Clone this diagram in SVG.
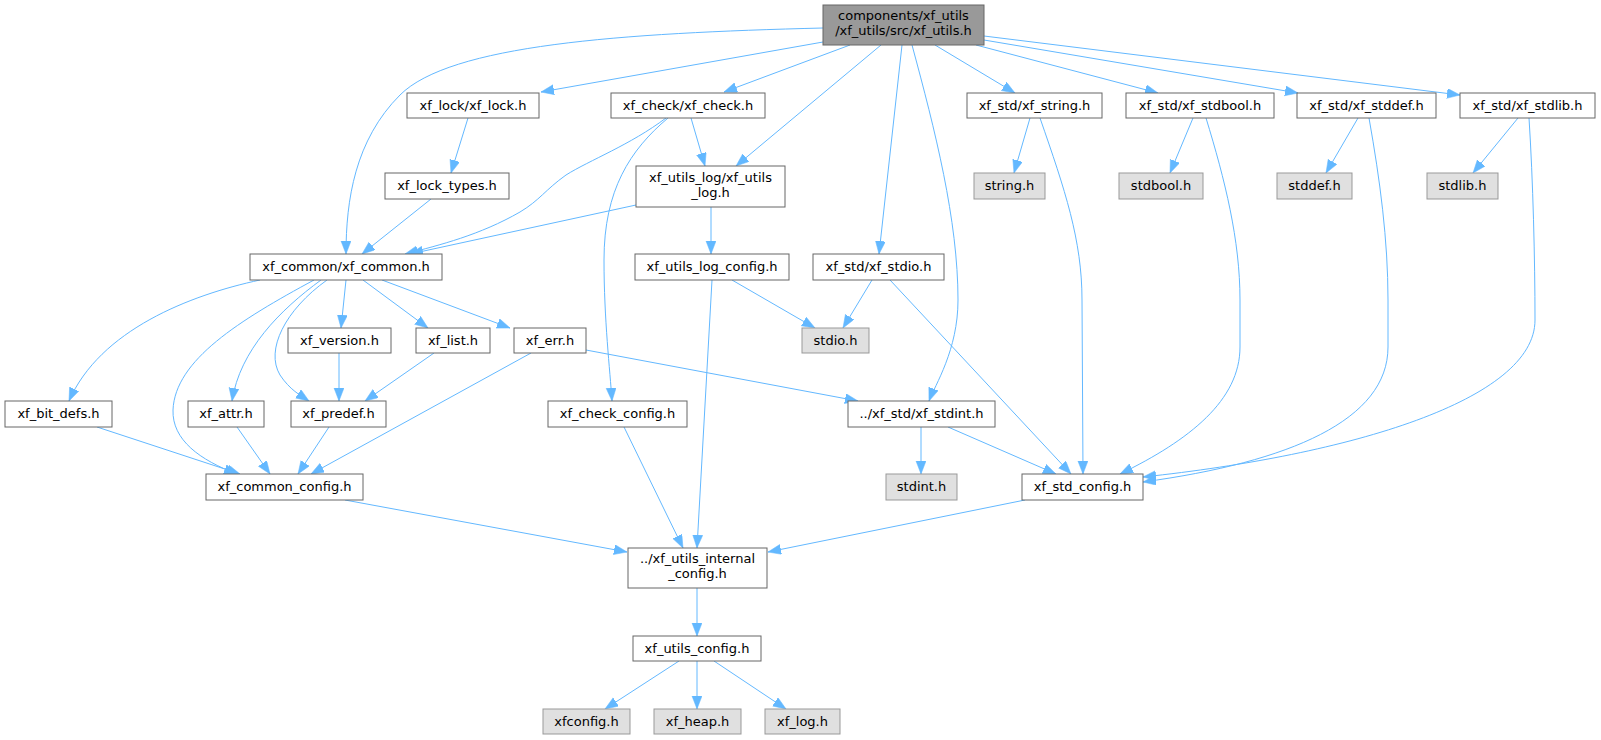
<svg xmlns="http://www.w3.org/2000/svg" width="1601" height="740" viewBox="0 0 1601 740">
<defs>
<style>
.n rect{fill:#ffffff;stroke:#666666;stroke-width:1}
.s rect{fill:#e0e0e0;stroke:#999999;stroke-width:1}
.m rect{fill:#999999;stroke:#666666;stroke-width:1}
text{font-family:"DejaVu Sans","Liberation Sans",sans-serif;font-size:13px;fill:#000000;text-anchor:middle}
#edges path{fill:none;stroke:#63b8ff;stroke-width:1;marker-end:url(#arr)}
</style>
<marker id="arr" markerUnits="userSpaceOnUse" markerWidth="14" markerHeight="12" refX="13" refY="5" orient="auto">
<path d="M0,0 L13,5 L0,10 z" fill="#63b8ff" stroke="#63b8ff" stroke-width="0.5"/>
</marker>
</defs>
<rect x="0" y="0" width="1601" height="740" fill="#ffffff"/>
<g id="edges">
<path d="M823,28 C620,33 450,45 400,95 C355,140 346,200 346,254"/>
<path d="M823,42 L541,92"/>
<path d="M850,45 L724,92"/>
<path d="M881,45 L736,166"/>
<path d="M902,45 L879,254"/>
<path d="M912,45 C935,130 958,220 958,300 C958,350 935,385 929,401"/>
<path d="M935,45 L1015,93"/>
<path d="M976,45 L1158,93"/>
<path d="M984,40 L1298,93"/>
<path d="M984,36 L1460,95"/>
<path d="M468,118 L451,173"/>
<path d="M431,199 L362,254"/>
<path d="M666,118 C630,145 590,160 566,175 C545,190 540,200 520,212 C480,235 440,245 405,254"/>
<path d="M691,118 L705,166"/>
<path d="M668,118 C630,150 604,190 604,260 C604,320 610,370 612,401"/>
<path d="M636,205 L410,254"/>
<path d="M711,207 L711,254"/>
<path d="M732,280 L815,328"/>
<path d="M712,280 L697,548"/>
<path d="M872,280 L843,328"/>
<path d="M890,280 L1071,474"/>
<path d="M260,280 C190,295 100,330 69,401"/>
<path d="M314,280 C240,320 175,360 173,410 C172,440 200,460 237,474"/>
<path d="M321,280 C280,310 240,350 232,401"/>
<path d="M327,280 C285,310 265,350 280,375 C290,390 300,395 309,401"/>
<path d="M346,280 L341,328"/>
<path d="M363,280 L428,328"/>
<path d="M382,280 L510,328"/>
<path d="M339,353 L339,401"/>
<path d="M434,353 L365,401"/>
<path d="M531,353 L311,474"/>
<path d="M586,350 L858,401"/>
<path d="M97,427 L240,474"/>
<path d="M237,427 L270,474"/>
<path d="M329,427 L298,474"/>
<path d="M345,500 L627,552"/>
<path d="M624,427 L683,548"/>
<path d="M921,427 L921,474"/>
<path d="M948,427 L1056,474"/>
<path d="M1040,118 C1065,190 1082,240 1082,300 L1083,474"/>
<path d="M1030,118 L1014,173"/>
<path d="M1193,118 L1170,173"/>
<path d="M1206,118 C1225,180 1240,240 1240,300 L1240,347 C1240,400 1190,440 1120,474"/>
<path d="M1358,118 L1326,173"/>
<path d="M1369,118 C1380,180 1388,240 1388,300 L1388,347 C1388,420 1290,462 1143,482"/>
<path d="M1518,118 L1473,173"/>
<path d="M1529,118 C1533,180 1535,260 1535,320 C1535,400 1350,455 1143,477"/>
<path d="M1025,500 L768,552"/>
<path d="M697,588 L697,636"/>
<path d="M679,661 L605,709"/>
<path d="M697,661 L697,709"/>
<path d="M714,661 L786,709"/>
</g>
<g id="node_main" class="m"><rect x="823" y="5" width="161" height="40"/><text x="903.5" y="20">components/xf_utils</text><text x="903.5" y="35">/xf_utils/src/xf_utils.h</text></g>
<g id="node_lock" class="n"><rect x="407" y="93" width="132" height="25"/><text x="473" y="110">xf_lock/xf_lock.h</text></g>
<g id="node_check" class="n"><rect x="611" y="93" width="154" height="25"/><text x="688" y="110">xf_check/xf_check.h</text></g>
<g id="node_string" class="n"><rect x="967" y="93" width="135" height="25"/><text x="1034.5" y="110">xf_std/xf_string.h</text></g>
<g id="node_stdbool" class="n"><rect x="1126" y="93" width="148" height="25"/><text x="1200" y="110">xf_std/xf_stdbool.h</text></g>
<g id="node_stddef" class="n"><rect x="1297" y="93" width="139" height="25"/><text x="1366.5" y="110">xf_std/xf_stddef.h</text></g>
<g id="node_stdlib" class="n"><rect x="1460" y="93" width="135" height="25"/><text x="1527.5" y="110">xf_std/xf_stdlib.h</text></g>
<g id="node_lock_types" class="n"><rect x="385" y="173" width="124" height="26"/><text x="447" y="190">xf_lock_types.h</text></g>
<g id="node_utils_log" class="n"><rect x="636" y="166" width="149" height="41"/><text x="710.5" y="182">xf_utils_log/xf_utils</text><text x="710.5" y="197">_log.h</text></g>
<g id="node_string_h" class="s"><rect x="974" y="173" width="71" height="26"/><text x="1009.5" y="190">string.h</text></g>
<g id="node_stdbool_h" class="s"><rect x="1119" y="173" width="84" height="26"/><text x="1161" y="190">stdbool.h</text></g>
<g id="node_stddef_h" class="s"><rect x="1277" y="173" width="75" height="26"/><text x="1314.5" y="190">stddef.h</text></g>
<g id="node_stdlib_h" class="s"><rect x="1427" y="173" width="71" height="26"/><text x="1462.5" y="190">stdlib.h</text></g>
<g id="node_common" class="n"><rect x="250" y="254" width="192" height="26"/><text x="346" y="271">xf_common/xf_common.h</text></g>
<g id="node_log_config" class="n"><rect x="635" y="254" width="154" height="26"/><text x="712" y="271">xf_utils_log_config.h</text></g>
<g id="node_stdio" class="n"><rect x="813" y="254" width="131" height="26"/><text x="878.5" y="271">xf_std/xf_stdio.h</text></g>
<g id="node_version" class="n"><rect x="288" y="328" width="103" height="25"/><text x="339.5" y="345">xf_version.h</text></g>
<g id="node_list" class="n"><rect x="416" y="328" width="74" height="25"/><text x="453" y="345">xf_list.h</text></g>
<g id="node_err" class="n"><rect x="514" y="328" width="72" height="25"/><text x="550" y="345">xf_err.h</text></g>
<g id="node_stdio_h" class="s"><rect x="802" y="328" width="67" height="25"/><text x="835.5" y="345">stdio.h</text></g>
<g id="node_bit_defs" class="n"><rect x="5" y="401" width="107" height="26"/><text x="58.5" y="418">xf_bit_defs.h</text></g>
<g id="node_attr" class="n"><rect x="188" y="401" width="76" height="26"/><text x="226" y="418">xf_attr.h</text></g>
<g id="node_predef" class="n"><rect x="291" y="401" width="95" height="26"/><text x="338.5" y="418">xf_predef.h</text></g>
<g id="node_check_config" class="n"><rect x="548" y="401" width="139" height="26"/><text x="617.5" y="418">xf_check_config.h</text></g>
<g id="node_stdint" class="n"><rect x="848" y="401" width="147" height="26"/><text x="921.5" y="418">../xf_std/xf_stdint.h</text></g>
<g id="node_common_config" class="n"><rect x="206" y="474" width="157" height="26"/><text x="284.5" y="491">xf_common_config.h</text></g>
<g id="node_stdint_h" class="s"><rect x="886" y="474" width="71" height="26"/><text x="921.5" y="491">stdint.h</text></g>
<g id="node_std_config" class="n"><rect x="1022" y="474" width="121" height="26"/><text x="1082.5" y="491">xf_std_config.h</text></g>
<g id="node_internal_config" class="n"><rect x="628" y="548" width="139" height="40"/><text x="697.5" y="563">../xf_utils_internal</text><text x="697.5" y="578">_config.h</text></g>
<g id="node_utils_config" class="n"><rect x="633" y="636" width="128" height="25"/><text x="697" y="653">xf_utils_config.h</text></g>
<g id="node_xfconfig" class="s"><rect x="543" y="709" width="87" height="25"/><text x="586.5" y="726">xfconfig.h</text></g>
<g id="node_heap" class="s"><rect x="654" y="709" width="87" height="25"/><text x="697.5" y="726">xf_heap.h</text></g>
<g id="node_log" class="s"><rect x="765" y="709" width="75" height="25"/><text x="802.5" y="726">xf_log.h</text></g>
</svg>
